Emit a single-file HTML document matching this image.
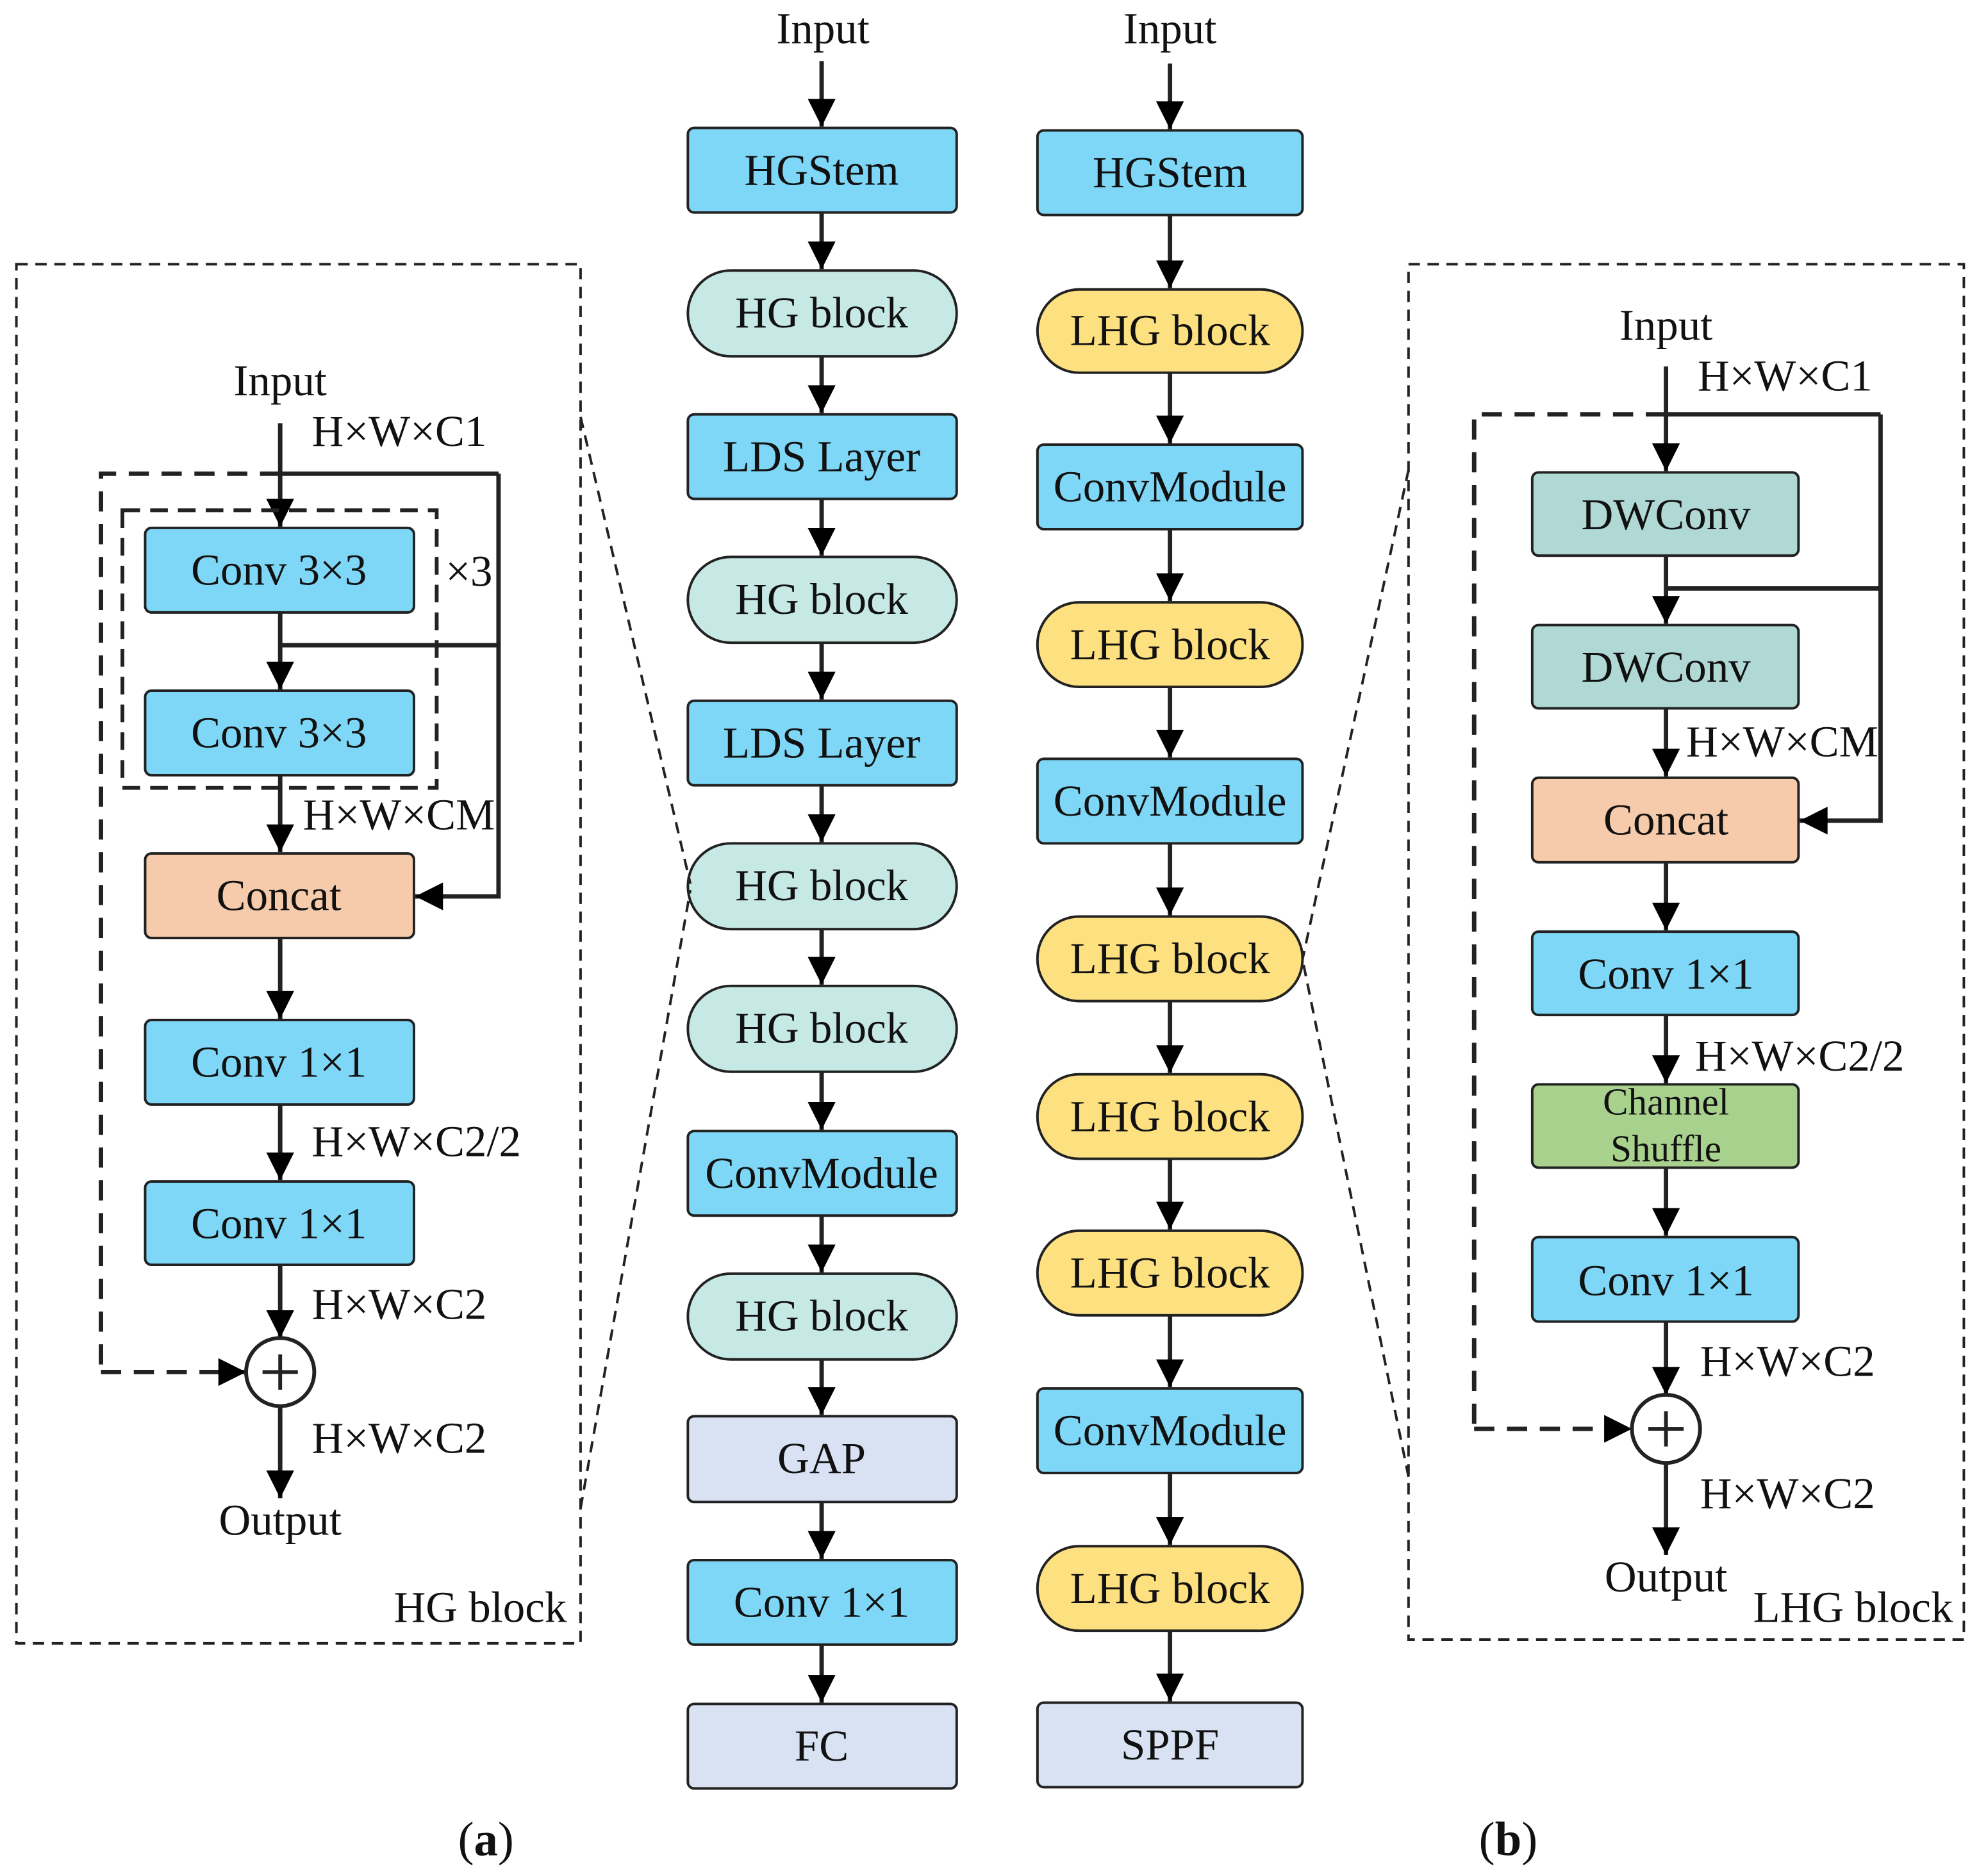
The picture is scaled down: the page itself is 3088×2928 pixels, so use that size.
<!DOCTYPE html>
<html><head><meta charset="utf-8"><style>
html,body{margin:0;padding:0;background:#fff}
svg{display:block}
text{font-family:"Liberation Serif","Times New Roman",serif;fill:#111}
</style></head><body>
<svg width="3088" height="2928" viewBox="0 0 1568 1486" xmlns="http://www.w3.org/2000/svg">
<defs>
<marker id="ar" viewBox="0 0 20 20" refX="20" refY="10" markerWidth="24" markerHeight="22" orient="auto" markerUnits="userSpaceOnUse"><path d="M0,0 L20,10 L0,20 z" fill="#000"/></marker>
</defs>
<g stroke="#222" stroke-width="2">
<g>
<rect x="545" y="101" width="213" height="67" rx="5" fill="#7fd7f7"/>
<rect x="545" y="214" width="213" height="68" rx="34" fill="#c6e9e5"/>
<rect x="545" y="328" width="213" height="67" rx="5" fill="#7fd7f7"/>
<rect x="545" y="441" width="213" height="68" rx="34" fill="#c6e9e5"/>
<rect x="545" y="555" width="213" height="67" rx="5" fill="#7fd7f7"/>
<rect x="545" y="668" width="213" height="68" rx="34" fill="#c6e9e5"/>
<rect x="545" y="781" width="213" height="68" rx="34" fill="#c6e9e5"/>
<rect x="545" y="896" width="213" height="67" rx="5" fill="#7fd7f7"/>
<rect x="545" y="1009" width="213" height="68" rx="34" fill="#c6e9e5"/>
<rect x="545" y="1122" width="213" height="68" rx="5" fill="#d9e2f3"/>
<rect x="545" y="1236" width="213" height="67" rx="5" fill="#7fd7f7"/>
<rect x="545" y="1350" width="213" height="67" rx="5" fill="#d9e2f3"/>
<rect x="822" y="103" width="210" height="67" rx="5" fill="#7fd7f7"/>
<rect x="822" y="229" width="210" height="66" rx="33" fill="#fde07f"/>
<rect x="822" y="352" width="210" height="67" rx="5" fill="#7fd7f7"/>
<rect x="822" y="477" width="210" height="67" rx="33" fill="#fde07f"/>
<rect x="822" y="601" width="210" height="67" rx="5" fill="#7fd7f7"/>
<rect x="822" y="726" width="210" height="67" rx="33" fill="#fde07f"/>
<rect x="822" y="851" width="210" height="67" rx="33" fill="#fde07f"/>
<rect x="822" y="975" width="210" height="67" rx="33" fill="#fde07f"/>
<rect x="822" y="1100" width="210" height="67" rx="5" fill="#7fd7f7"/>
<rect x="822" y="1225" width="210" height="67" rx="33" fill="#fde07f"/>
<rect x="822" y="1349" width="210" height="67" rx="5" fill="#d9e2f3"/>
<rect x="115" y="418" width="213" height="67" rx="5" fill="#7fd7f7"/>
<rect x="115" y="547" width="213" height="67" rx="5" fill="#7fd7f7"/>
<rect x="115" y="676" width="213" height="67" rx="5" fill="#f6cbab"/>
<rect x="115" y="808" width="213" height="67" rx="5" fill="#7fd7f7"/>
<rect x="115" y="936" width="213" height="66" rx="5" fill="#7fd7f7"/>
<rect x="1214" y="374" width="211" height="66" rx="5" fill="#b0d9d6"/>
<rect x="1214" y="495" width="211" height="66" rx="5" fill="#b0d9d6"/>
<rect x="1214" y="616" width="211" height="67" rx="5" fill="#f6cbab"/>
<rect x="1214" y="738" width="211" height="66" rx="5" fill="#7fd7f7"/>
<rect x="1214" y="859" width="211" height="66" rx="5" fill="#a9d18e"/>
<rect x="1214" y="980" width="211" height="67" rx="5" fill="#7fd7f7"/>
</g>
<g fill="none" stroke-dasharray="9,6">
<rect x="13" y="209" width="447" height="1093"/>
<rect x="1116" y="209" width="440" height="1090"/>
<path d="M460,330 L547,700 M460,1195 L547,705 M1116,372 L1032,760 M1116,1170 L1032,760"/>
</g>
<g stroke-width="3.5" marker-end="url(#ar)" fill="none">
<path d="M651,48 V100"/><path d="M651,168 V213"/><path d="M651,282 V327"/><path d="M651,395 V440"/>
<path d="M651,509 V554"/><path d="M651,622 V667"/><path d="M651,736 V780"/><path d="M651,849 V895"/>
<path d="M651,963 V1008"/><path d="M651,1077 V1121"/><path d="M651,1190 V1235"/><path d="M651,1303 V1349"/>
<path d="M927,50 V102"/><path d="M927,170 V228"/><path d="M927,295 V351"/><path d="M927,419 V476"/>
<path d="M927,544 V600"/><path d="M927,668 V725"/><path d="M927,793 V850"/><path d="M927,918 V974"/>
<path d="M927,1042 V1099"/><path d="M927,1167 V1224"/><path d="M927,1292 V1348"/>
<path d="M222,335 V417"/><path d="M222,485 V546"/><path d="M222,614 V675"/><path d="M222,743 V807"/>
<path d="M222,875 V935"/><path d="M222,1002 V1060"/><path d="M222,1114 V1187"/>
<path d="M395,375 V710 H329"/>
<path d="M80,1087 H195" stroke-dasharray="16,10"/>
<path d="M1320,290 V373"/><path d="M1320,440 V494"/><path d="M1320,561 V615"/><path d="M1320,683 V737"/>
<path d="M1320,804 V858"/><path d="M1320,925 V979"/><path d="M1320,1047 V1105"/><path d="M1320,1159 V1232"/>
<path d="M1490,328 V650 H1426"/>
<path d="M1168,1132 H1293" stroke-dasharray="16,10"/>
</g>
<g stroke-width="3.5" fill="none">
<path d="M222,375 H395"/><path d="M222,511 H395"/>
<path d="M222,375 H80 V1087" stroke-dasharray="16,10"/>
<path d="M1320,328 H1490"/><path d="M1320,466 H1490"/>
<path d="M1320,328 H1168 V1132" stroke-dasharray="16,10"/>
<rect x="97" y="404" width="249" height="220" stroke-width="3" stroke-dasharray="14,8"/>
</g>
<g stroke-width="3" fill="#fff">
<circle cx="222" cy="1087" r="27"/><circle cx="1320" cy="1132" r="27"/>
<path d="M222,1073 V1101 M208,1087 H236 M1320,1118 V1146 M1306,1132 H1334" fill="none"/>
</g>
</g>
<g font-size="35" text-anchor="middle">
<text x="652" y="34">Input</text><text x="927" y="34">Input</text>
<text x="651" y="146">HGStem</text><text x="651" y="259">HG block</text><text x="651" y="373">LDS Layer</text>
<text x="651" y="486">HG block</text><text x="651" y="600">LDS Layer</text><text x="651" y="713">HG block</text>
<text x="651" y="826">HG block</text><text x="651" y="941">ConvModule</text><text x="651" y="1054">HG block</text>
<text x="651" y="1167">GAP</text><text x="651" y="1281">Conv 1×1</text><text x="651" y="1395">FC</text>
<text x="927" y="148">HGStem</text><text x="927" y="273">LHG block</text><text x="927" y="397">ConvModule</text>
<text x="927" y="522">LHG block</text><text x="927" y="646">ConvModule</text><text x="927" y="771">LHG block</text>
<text x="927" y="896">LHG block</text><text x="927" y="1020">LHG block</text><text x="927" y="1145">ConvModule</text>
<text x="927" y="1270">LHG block</text><text x="927" y="1394">SPPF</text>
<text x="222" y="313">Input</text>
<text x="221" y="463">Conv 3×3</text><text x="221" y="592">Conv 3×3</text><text x="221" y="721">Concat</text>
<text x="221" y="853">Conv 1×1</text><text x="221" y="981">Conv 1×1</text>
<text x="222" y="1216">Output</text>
<text x="1320" y="269">Input</text>
<text x="1320" y="419">DWConv</text><text x="1320" y="540">DWConv</text><text x="1320" y="661">Concat</text>
<text x="1320" y="783">Conv 1×1</text><text x="1320" y="1026">Conv 1×1</text>
<text x="1320" y="883" font-size="30">Channel</text><text x="1320" y="920" font-size="30">Shuffle</text>
<text x="1320" y="1261">Output</text>
<text x="385" y="1470" font-size="38">(<tspan font-weight="bold">a</tspan>)</text>
<text x="1195" y="1470" font-size="38">(<tspan font-weight="bold">b</tspan>)</text>
</g>
<g font-size="35">
<text x="247" y="353">H×W×C1</text><text x="353" y="464">×3</text>
<text x="240" y="657">H×W×CM</text><text x="247" y="916">H×W×C2/2</text>
<text x="247" y="1045">H×W×C2</text><text x="247" y="1151">H×W×C2</text>
<text x="312" y="1285">HG block</text>
<text x="1345" y="309">H×W×C1</text><text x="1336" y="599">H×W×CM</text>
<text x="1343" y="848">H×W×C2/2</text><text x="1347" y="1090">H×W×C2</text>
<text x="1347" y="1195">H×W×C2</text><text x="1389" y="1285">LHG block</text>
</g>
</svg>
</body></html>
